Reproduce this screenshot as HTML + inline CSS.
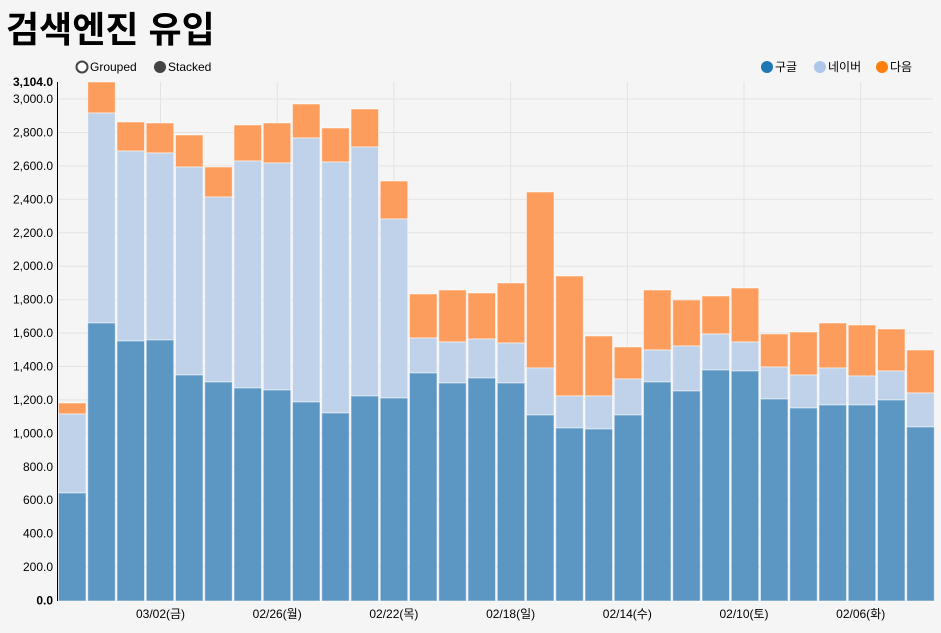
<!DOCTYPE html>
<html><head><meta charset="utf-8"><style>
html,body{margin:0;padding:0;background:#f5f5f5;width:941px;height:633px;overflow:hidden}
svg{display:block;font-family:"Liberation Sans","Noto Sans CJK KR",sans-serif}
</style></head><body>
<svg width="941" height="633" xmlns="http://www.w3.org/2000/svg">
<text x="6" y="42" font-size="36" font-weight="bold" fill="#000" font-family="'Liberation Sans','Noto Sans CJK KR',sans-serif">검색엔진 유입</text>
<circle cx="82" cy="67" r="5.5" fill="#fff" stroke="#444" stroke-width="2"/>
<text x="90" y="71" font-size="12" fill="#000">Grouped</text>
<circle cx="160" cy="67" r="6" fill="#444"/>
<text x="168" y="71" font-size="12" fill="#000">Stacked</text>
<circle cx="767" cy="67" r="6" fill="#1f77b4"/><text x="775" y="71" font-size="12">구글</text>
<circle cx="820" cy="67" r="6" fill="#aec7e8"/><text x="828" y="71" font-size="12">네이버</text>
<circle cx="882" cy="67" r="6" fill="#ff7f0e"/><text x="890" y="71" font-size="12">다음</text>
<g id="grid" stroke="#e3e3e3" stroke-width="1"></g>
<g id="bars"></g>
<line x1="57.5" y1="82" x2="57.5" y2="601" stroke="#000" stroke-width="1"/>
<g id="yl" font-size="12" text-anchor="end" fill="#000"></g>
<g id="xl" font-size="12" text-anchor="middle" fill="#000"></g>
</svg>
<script>
var ns="http://www.w3.org/2000/svg";
function el(p,t,a,txt){var e=document.createElementNS(ns,t);for(var k in a)e.setAttribute(k,a[k]);if(txt)e.textContent=txt;document.getElementById(p).appendChild(e);}
var y0=600.5,s=0.16715;
for(var v=200;v<=3000;v+=200){var y=y0-v*s;el('grid','line',{x1:58,x2:933,y1:y,y2:y});}
for(var v=0;v<=3000;v+=200){var y=y0-v*s;el('yl','text',{x:53,y:y+4,'font-weight':v==0?'bold':'normal'},v.toLocaleString('en-US')+'.0');}
el('yl','text',{x:53,y:86,'font-weight':'bold'},'3,104.0');
var labs=['03/02(금)','02/26(월)','02/22(목)','02/18(일)','02/14(수)','02/10(토)','02/06(화)'];
for(var i=0;i<7;i++){var x=160.5+i*116.7;el('grid','line',{x1:x,x2:x,y1:82,y2:601});el('xl','text',{x:x,y:618},labs[i]);}
var d=[[493,414,403],[323,113,82],[341,151,122],[340,153,123],[375,167,135],[382,197,167],[388,161,125],[390,163,123],[402,138,104],[413,162,128],[396,147,109],[398,219,181],[373,338,294],[383,342,290],[378,339,293],[383,343,283],[415,368,192],[428,396,276],[429,396,336],[415,379,347],[382,350,290],[391,346,300],[370,334,296],[371,342,288],[399,367,334],[408,375,332],[405,368,323],[405,376,325],[400,371,329],[427,393,350]];
for(var i=0;i<30;i++){var x=58.5+i*29.25,w=27.5,b=d[i];
el('bars','rect',{x:x,y:b[2],width:w,height:b[1]-b[2],fill:'#fc9d5e',stroke:'#fff','stroke-opacity':0.5,'stroke-width':1});
el('bars','rect',{x:x,y:b[1],width:w,height:b[0]-b[1],fill:'#c0d2ea',stroke:'#fff','stroke-opacity':0.5,'stroke-width':1});
el('bars','rect',{x:x,y:b[0],width:w,height:601-b[0],fill:'#5c97c4',stroke:'#fff','stroke-opacity':0.5,'stroke-width':1});}
</script>
</body></html>
